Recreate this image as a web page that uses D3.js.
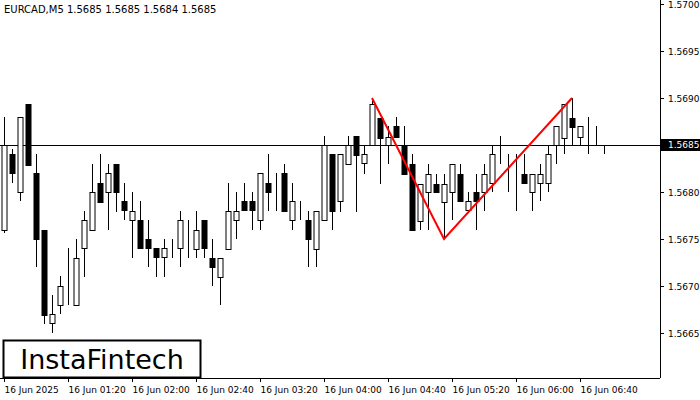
<!DOCTYPE html>
<html>
<head>
<meta charset="utf-8">
<script src="https://cdn.jsdelivr.net/npm/d3@7"></script>
<style>
  body { margin: 0; background: #fff; }
  text { font-family: "DejaVu Sans", sans-serif; }
</style>
</head>
<body>
<div id="chart-area"></div>
<script>
const W = 700, H = 400
const PLOT = { RIGHT: 660, BOTTOM: 378 }

// candles, 5 minute bars
const opens  = [1.5676,1.5684,1.5680,1.56894,1.5682,1.5676,1.5666,1.5668,1.5669,1.5668,1.5674,1.5676,1.5681,1.5680,1.5683,1.5679,1.5677,1.5677,1.5675,1.5674,
                1.5673,1.5675,1.5674,1.5675,1.5674,1.5677,1.5673,1.5671,1.5674,1.5677,1.5679,1.5679,1.5677,1.5681,1.5681,1.5682,1.5677,1.5678,1.5677,1.5674,
                1.5677,1.5684,1.5679,1.5683,1.5686,1.5683,1.5685,1.56879,1.5685,1.5687,1.5685,1.5683,1.5677,1.5680,1.56809,1.5679,1.5680,1.56819,1.5678,1.5680,
                1.5680,1.56809,1.5684,1.5684,1.5683,1.56819,1.5680,1.56809,1.56809,1.5685,1.56858,1.56879,1.56858,1.5686,1.5686,1.5685]
const highs  = [1.5688,1.56846,1.5688,1.56894,1.5684,1.5676,1.5669,1.56711,1.5674,1.5675,1.5678,1.5683,1.5684,1.5683,1.5683,1.5681,1.5680,1.5679,1.5677,1.5674,
                1.5675,1.5675,1.5678,1.5677,1.5678,1.5677,1.5675,1.5673,1.5681,1.5680,1.5681,1.5680,1.5682,1.5684,1.5682,1.5683,1.5681,1.5679,1.5678,1.5678,
                1.5686,1.5684,1.5684,1.5686,1.5686,1.5685,1.5690,1.56879,1.5687,1.5688,1.5687,1.5684,1.56809,1.5683,1.56819,1.56819,1.5683,1.5683,1.5680,1.56819,
                1.5683,1.5685,1.5686,1.5684,1.5684,1.5684,1.56819,1.5683,1.5685,1.5687,1.56894,1.5690,1.5687,1.5688,1.5687,1.5685]
const lows   = [1.56756,1.5681,1.5679,1.56829,1.5672,1.5666,1.5665,1.5667,1.5668,1.5668,1.5671,1.5676,1.5679,1.5676,1.56779,1.5677,1.5673,1.5674,1.5672,1.5671,
                1.5671,1.5673,1.5672,1.5673,1.5673,1.5673,1.5670,1.5668,1.5674,1.5675,1.5678,1.5676,1.5676,1.5678,1.5678,1.5678,1.5676,1.5677,1.5672,1.5672,
                1.5677,1.5676,1.56779,1.5683,1.56779,1.56819,1.5685,1.56809,1.5683,1.56858,1.56819,1.5676,1.5676,1.5676,1.5680,1.5675,1.5677,1.5679,1.5678,1.5676,
                1.5678,1.5680,1.5683,1.5680,1.5678,1.56809,1.5678,1.5679,1.5680,1.5683,1.5684,1.5685,1.5685,1.5684,1.5685,1.5684]
const closes = [1.5685,1.5682,1.5688,1.56829,1.5675,1.5667,1.5667,1.5670,1.5669,1.5673,1.5677,1.5680,1.5679,1.5682,1.5680,1.5678,1.5678,1.5674,1.5674,1.5673,
                1.5674,1.5675,1.5677,1.5675,1.5676,1.5674,1.5672,1.5673,1.5678,1.5678,1.5678,1.5678,1.5682,1.5680,1.5681,1.5678,1.5679,1.5678,1.5675,1.5678,
                1.5685,1.56779,1.5684,1.5685,1.5684,1.5684,1.56894,1.56858,1.56858,1.56858,1.56819,1.5676,1.56809,1.56819,1.5680,1.56809,1.5683,1.5679,1.5679,1.5679,
                1.56819,1.5684,1.5684,1.5684,1.5683,1.56809,1.56819,1.56819,1.5684,1.5687,1.56894,1.56869,1.5687,1.5686,1.5686,1.5685]

// double top pattern: candle index, price
const patternIdx = [46, 55, 71]
const patternPrice = [1.5690, 1.5675, 1.5690]

const priceTicks = [1.5665, 1.5670, 1.5675, 1.5680, 1.5685, 1.5690, 1.5695, 1.5700]
const timeIdx = [0, 8, 16, 24, 32, 40, 48, 56, 64, 72]
const timeLabels = ["16 Jun 2025","16 Jun 01:20","16 Jun 02:00","16 Jun 02:40","16 Jun 03:20",
                    "16 Jun 04:00","16 Jun 04:40","16 Jun 05:20","16 Jun 06:00","16 Jun 06:40"]
const current = 1.5685

const data = opens.map((o, i) => ({ i, o, h: highs[i], l: lows[i], c: closes[i] }))

const svg = d3.select("#chart-area").append("svg")
  .attr("width", W).attr("height", H)

const x = d3.scaleLinear().domain([0, 82]).range([4, 660])
const y = d3.scaleLinear().domain([1.5665, 1.5700]).range([333, 4])

// title
svg.append("text")
  .attr("x", 4).attr("y", 13)
  .attr("font-size", "10px")
  .text("EURCAD,M5  1.5685 1.5685 1.5684 1.5685")

// current price line
svg.append("line")
  .attr("x1", 0).attr("x2", PLOT.RIGHT)
  .attr("y1", Math.round(y(current)) + 0.5).attr("y2", Math.round(y(current)) + 0.5)
  .attr("stroke", "#000")

// wicks
svg.selectAll(".wick").data(data).enter().append("line")
  .attr("x1", d => Math.round(x(d.i)) + 0.5)
  .attr("x2", d => Math.round(x(d.i)) + 0.5)
  .attr("y1", d => Math.round(y(d.h)))
  .attr("y2", d => Math.round(y(d.l)))
  .attr("stroke", "#000")

// bodies
svg.selectAll(".body").data(data).enter().append("rect")
  .attr("x", d => Math.round(x(d.i)) - 2)
  .attr("y", d => Math.round(y(Math.max(d.o, d.c))) + 0.5)
  .attr("width", 5)
  .attr("height", d => Math.max(0, Math.round(Math.abs(y(d.o) - y(d.c)))))
  .attr("fill", d => d.c >= d.o ? "#fff" : "#000")
  .attr("stroke", "#000")

// pattern
svg.append("path")
  .datum(patternIdx.map((k, j) => [x(k), y(patternPrice[j])]))
  .attr("d", d3.line())
  .attr("fill", "none")
  .attr("stroke", "#f00")
  .attr("stroke-width", 2)

// frame
svg.append("line").attr("x1", PLOT.RIGHT + 0.5).attr("x2", PLOT.RIGHT + 0.5)
  .attr("y1", 0).attr("y2", PLOT.BOTTOM).attr("stroke", "#000")
svg.append("line").attr("x1", 0).attr("x2", PLOT.RIGHT)
  .attr("y1", PLOT.BOTTOM + 0.5).attr("y2", PLOT.BOTTOM + 0.5).attr("stroke", "#000")

// price axis
const pt = svg.append("g").selectAll("g").data(priceTicks).enter().append("g")
  .attr("transform", d => `translate(${PLOT.RIGHT}, ${Math.round(y(d)) + 0.5})`)
pt.append("line").attr("x2", 4).attr("stroke", "#000")
pt.append("text")
  .attr("x", 8).attr("dy", "0.35em")
  .attr("font-size", "9px")
  .text(d => d.toFixed(4))

// current price box
svg.append("rect")
  .attr("x", PLOT.RIGHT + 1).attr("y", y(current) - 6)
  .attr("width", 40).attr("height", 12)
  .attr("fill", "#000")
svg.append("text")
  .attr("x", PLOT.RIGHT + 8).attr("y", y(current)).attr("dy", "0.35em")
  .attr("font-size", "9px").attr("fill", "#fff")
  .text(current.toFixed(4))

// time axis
const tt = svg.append("g").selectAll("g").data(timeIdx).enter().append("g")
  .attr("transform", d => `translate(${Math.round(x(d)) + 0.5}, ${PLOT.BOTTOM})`)
tt.append("line").attr("y2", 4).attr("stroke", "#000")
tt.append("text")
  .attr("x", 0).attr("y", 15)
  .attr("font-size", "9px")
  .text((d, k) => timeLabels[k])

// logo
svg.append("rect")
  .attr("x", 3.5).attr("y", 340.5).attr("width", 197).attr("height", 37)
  .attr("fill", "#fff").attr("stroke", "#000").attr("stroke-width", 2)
svg.append("text")
  .attr("x", 102).attr("y", 369)
  .attr("text-anchor", "middle")
  .attr("font-size", "27px")
  .attr("font-family", "Roboto, sans-serif")
  .attr("font-weight", 500)
  .text("InstaFintech")
</script>
</body>
</html>
